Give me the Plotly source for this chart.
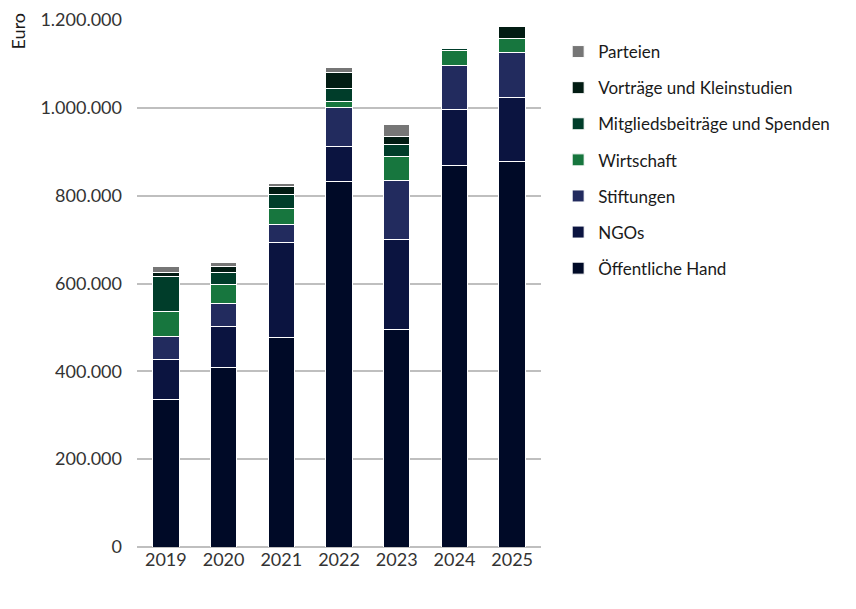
import plotly.graph_objects as go

years = ["2019", "2020", "2021", "2022", "2023", "2024", "2025"]

oeffentliche_hand = [337000, 408000, 478000, 833000, 496000, 869000, 878000]
ngos = [89000, 94000, 216000, 79000, 204000, 127000, 146000]
stiftungen = [54000, 52000, 40000, 89000, 135000, 100000, 101000]
wirtschaft = [57000, 43000, 36000, 14000, 55000, 35000, 34000]
mitglieder = [78000, 29000, 32000, 28000, 26000, 4000, 0]
vortraege = [9000, 13000, 18000, 38000, 19000, 3000, 27000]
parteien = [14000, 8000, 8000, 11000, 27000, 0, 0]

series = [
    ("Öffentliche Hand", oeffentliche_hand, "#000a27"),
    ("NGOs", ngos, "#0b1440"),
    ("Stiftungen", stiftungen, "#222b5e"),
    ("Wirtschaft", wirtschaft, "#17763e"),
    ("Mitgliedsbeiträge und Spenden", mitglieder, "#003d2a"),
    ("Vorträge und Kleinstudien", vortraege, "#021c13"),
    ("Parteien", parteien, "#767676"),
]

fig = go.Figure()
for i, (name, vals, col) in enumerate(series):
    fig.add_trace(go.Bar(
        x=years, y=vals, name=name, legendgroup=name,
        legendrank=100 - i,
        marker=dict(color=col, line=dict(color="white", width=1)),
    ))

font = "Lato, 'Noto Sans', sans-serif"

# page body adds an 8px offset, margins take that into account
fig.update_layout(
    width=856, height=609,
    barmode="stack", bargap=0.54,
    separators=",.",
    plot_bgcolor="white", paper_bgcolor="white",
    font=dict(family=font, size=18, color="#333333"),
    margin=dict(l=129, r=323, t=12, b=70, autoexpand=False),
    legend=dict(
        x=1.0425, y=0.9734, xanchor="left", yanchor="top",
        traceorder="grouped", tracegroupgap=11,
        font=dict(size=17, color="#1a1a1a"), itemwidth=30,
    ),
    yaxis=dict(
        range=[0, 1200000], dtick=200000, tickformat=",d",
        showgrid=True, gridcolor="#bfbfbf", gridwidth=1.5,
        zeroline=True, zerolinecolor="#bfbfbf", zerolinewidth=1.5,
        ticks="", ticklabelstandoff=14,
    ),
    xaxis=dict(showline=False, ticks=""),
    annotations=[dict(
        text="Euro", textangle=-90, xref="paper", yref="paper",
        x=-0.295, y=0.978, xanchor="center", yanchor="middle",
        showarrow=False, font=dict(size=18, color="#1a1a1a"),
    )],
)

fig.write_html("out.html")
